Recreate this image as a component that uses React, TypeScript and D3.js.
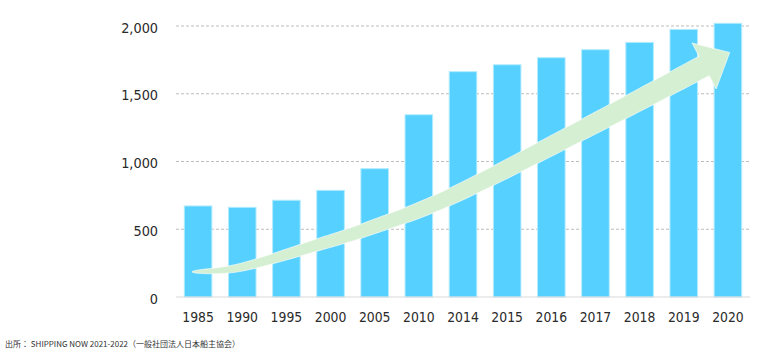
import React from 'react';
import * as d3 from 'd3';

const years = ['1985', '1990', '1995', '2000', '2005', '2010', '2014', '2015', '2016', '2017', '2018', '2019', '2020'];
const values = [672, 662, 714, 787, 947, 1345, 1663, 1714, 1766, 1825, 1879, 1975, 2020];
const yTicks = [0, 500, 1000, 1500, 2000];
// arrow centerline: fraction along the plot width, value on the y axis
const arrowXFrac = [0.028, 0.112, 0.246, 0.338, 0.477, 0.704, 0.92];
const arrowVals = [185, 218, 384, 509, 738, 1225, 1705];
const sourceText = '出所： SHIPPING NOW 2021-2022（一般社団法人日本船主協会）';

const W = 760;
const H = 353;
const M = { left: 176, right: 10, top: 26, bottom: 56 };
const FONT = "'DejaVu Sans', Verdana, sans-serif";

function catmull(pts: [number, number][], steps: number): [number, number][] {
  const out: [number, number][] = [];
  for (let i = 0; i < pts.length - 1; i++) {
    const p0 = pts[Math.max(0, i - 1)];
    const p1 = pts[i];
    const p2 = pts[i + 1];
    const p3 = pts[Math.min(pts.length - 1, i + 2)];
    for (let k = 0; k < steps; k++) {
      const t = k / steps;
      const t2 = t * t, t3 = t2 * t;
      const f = (a: number, b: number, c: number, d: number) =>
        0.5 * (2 * b + (-a + c) * t + (2 * a - 5 * b + 4 * c - d) * t2 + (-a + 3 * b - 3 * c + d) * t3);
      out.push([f(p0[0], p1[0], p2[0], p3[0]), f(p0[1], p1[1], p2[1], p3[1])]);
    }
  }
  out.push(pts[pts.length - 1]);
  return out;
}

export default function App() {
  const x = d3.scaleBand<string>().domain(years).range([M.left, W - M.right]).paddingInner(0.375).paddingOuter(0.1875);
  const y = d3.scaleLinear().domain([0, 2000]).range([H - M.bottom, M.top]);
  const x0 = M.left, x1 = W - M.right;
  const fmt = d3.format(',');

  // arrow
  const ctrl: [number, number][] = arrowXFrac.map((f, i) => [x0 + f * (x1 - x0), y(arrowVals[i])]);
  const pts = catmull(ctrl, 24);
  const cum: number[] = [0];
  for (let i = 1; i < pts.length; i++) {
    cum.push(cum[i - 1] + Math.hypot(pts[i][0] - pts[i - 1][0], pts[i][1] - pts[i - 1][1]));
  }
  const L = cum[cum.length - 1];
  const maxHalf = 11;
  const upper: [number, number][] = [];
  const lower: [number, number][] = [];
  pts.forEach((p, i) => {
    const a = pts[Math.max(0, i - 1)];
    const b = pts[Math.min(pts.length - 1, i + 1)];
    const dx = b[0] - a[0], dy = b[1] - a[1];
    const len = Math.hypot(dx, dy) || 1;
    const nx = -dy / len, ny = dx / len;
    const h = maxHalf * Math.pow(cum[i] / L, 0.42);
    upper.push([p[0] - nx * h, p[1] - ny * h]);
    lower.push([p[0] + nx * h, p[1] + ny * h]);
  });
  const B = pts[pts.length - 1];
  const prev = ctrl[ctrl.length - 2];
  const ddx = B[0] - prev[0], ddy = B[1] - prev[1];
  const dl = Math.hypot(ddx, ddy);
  const ux = ddx / dl, uy = ddy / dl;
  const nx = -uy, ny = ux;
  const headHalf = 26, headLen = 29;
  const barbA: [number, number] = [B[0] - nx * headHalf, B[1] - ny * headHalf];
  const barbB: [number, number] = [B[0] + nx * headHalf, B[1] + ny * headHalf];
  const tip: [number, number] = [B[0] + ux * headLen, B[1] + uy * headLen];
  const outline: [number, number][] = [
    ...upper,
    barbA,
    tip,
    barbB,
    ...lower.slice(1).reverse(),
  ];
  const arrowD = d3.line().curve(d3.curveLinearClosed)(outline) || '';

  return (
    <svg width={W} height={H} style={{ position: 'absolute', left: 0, top: 0, background: '#fff' }}>
      {yTicks.filter((t) => t > 0).map((t) => (
        <line key={t} x1={x0} x2={x1} y1={y(t)} y2={y(t)} stroke="#bdbdbd" strokeWidth={1} strokeDasharray="3,2" />
      ))}
      {years.map((yr, i) => (
        <rect
          key={yr}
          x={x(yr)}
          y={y(values[i])}
          width={x.bandwidth()}
          height={y(0) - y(values[i])}
          fill="#55D0FF"
          stroke="#b3ebff"
          strokeWidth={1}
        />
      ))}
      <line x1={x0} x2={x1} y1={y(0)} y2={y(0)} stroke="#d9d9d9" strokeWidth={1.2} />
      <path d={arrowD} fill="#D5EFD3" stroke="#ffffff" strokeWidth={0.6} strokeLinejoin="miter" />
      {yTicks.map((t) => (
        <text
          key={t}
          transform={`translate(158,${y(t) + 6.6}) scale(0.9,1)`}
          textAnchor="end"
          fontFamily={FONT}
          fontSize={14.3}
          fill="#2a2a2a"
        >
          {fmt(t)}
        </text>
      ))}
      {years.map((yr) => (
        <text
          key={yr}
          transform={`translate(${(x(yr) || 0) + x.bandwidth() / 2},322.3) scale(0.9,1)`}
          textAnchor="middle"
          fontFamily={FONT}
          fontSize={13.8}
          fill="#2a2a2a"
        >
          {yr}
        </text>
      ))}
      <text x={5} y={346.5} fontFamily="'Noto Sans CJK JP', sans-serif" fontSize={8} fill="#333">
        {sourceText}
      </text>
    </svg>
  );
}
